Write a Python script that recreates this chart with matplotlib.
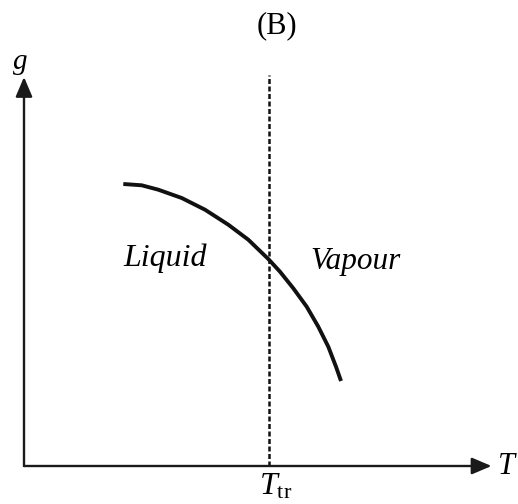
#!/usr/bin/env python3
"""Sketch of Gibbs energy g versus temperature T near the transition point."""

import matplotlib

matplotlib.use("Agg")
import matplotlib.pyplot as plt

plt.rcParams["font.family"] = ["Liberation Serif", "DejaVu Serif"]
plt.rcParams["mathtext.fontset"] = "custom"
plt.rcParams["mathtext.rm"] = "Liberation Serif"
plt.rcParams["mathtext.it"] = "Liberation Serif:italic"

# curve g(T) (arbitrary units)
T_curve = [99.3, 117.7, 134.3, 157.7, 181, 204.3, 224.3, 244.3,
           256, 269.3, 282.7, 294.3, 304.3, 312, 317]
g_curve = [282, 280.7, 276.3, 268, 256.3, 241.3, 226.3, 207,
           194.3, 177.7, 159.3, 139.3, 119.3, 99.3, 85]

T_tr = 245
T_max = 467.5
g_max = 389
dash_top = 391

fig = plt.figure(figsize=(5.18, 5.04), dpi=100)
ax = fig.add_axes([0, 0, 1, 1])
ax.set_xlim(-24, 494)
ax.set_ylim(-38, 466)
ax.axis("off")

arrow = dict(arrowstyle="-|>,head_length=0.4,head_width=0.17", mutation_scale=30,
             lw=1.7, color="#1a1a1a", shrinkA=0, shrinkB=0)
ax.annotate("", xy=(T_max, 0), xytext=(0, 0), arrowprops=arrow)
ax.annotate("", xy=(0, g_max), xytext=(0, 0), arrowprops=arrow)

ax.plot([T_tr, T_tr], [0, dash_top], color="#111111", lw=1.8, dashes=(2.0, 1.0))
ax.plot(T_curve, g_curve, color="#111111", lw=2.8, solid_capstyle="butt",
        solid_joinstyle="round")

ax.text(253, 440, "(B)", fontsize=22, ha="center", va="center")
ax.text(-4, 404, "g", fontsize=21, style="italic", ha="center", va="center")
ax.text(483, -1, "T", fontsize=22, style="italic", ha="center", va="center")
ax.text(252, -21, r"$T_{\mathrm{tr}}$", fontsize=23, ha="center", va="center")
ax.text(141, 208, "Liquid", fontsize=23, style="italic", ha="center", va="center")
ax.text(331, 205, "Vapour", fontsize=22.5, style="italic", ha="center", va="center")

fig.savefig("out.png", dpi=100)
